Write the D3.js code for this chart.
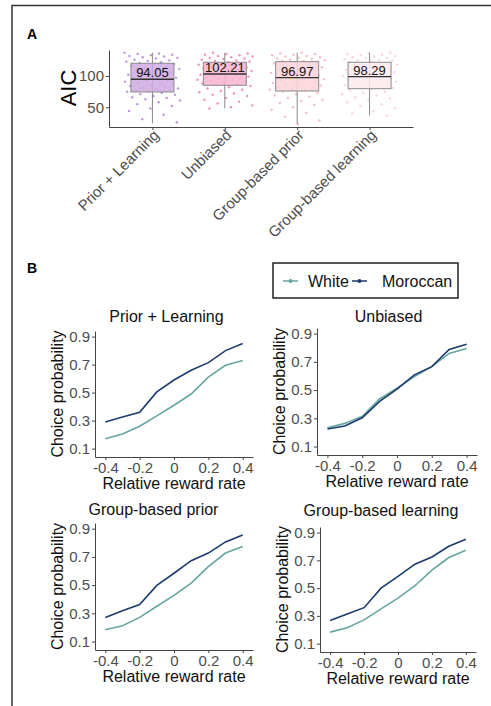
<!doctype html>
<html>
<meta charset="utf-8">
<style>
body { margin: 0; padding: 0; background: #fff; }
svg, svg text { font-family: 'Liberation Sans', Arial, sans-serif; }
svg { display: block; }
.tick text { fill: #4d4d4d; }
.domain, .tick line { stroke: #444; }
</style>
<body>
<svg width="491" height="706"></svg>
<script src="https://cdn.jsdelivr.net/npm/d3@7"></script>
<script>

// ---- data, panel A (AIC per model) ----
var models = ["Prior + Learning", "Unbiased", "Group-based prior", "Group-based learning"];
var aicLabels = ["94.05", "102.21", "96.97", "98.29"];
var aicMedian = [94.7, 103.2, 97.3, 98.9];
var aicQ1 = [74.4, 85.1, 76.0, 79.7];
var aicQ3 = [120.3, 121.9, 122.9, 121.9];
var aicLow = [24.4, 48.4, 23.3, 36.6];
var aicHigh = [137, 137, 137, 137];
var aicTicks = [50, 100];

// individual participants
var aicPrior = [137, 136, 135, 134, 133, 132, 131, 130, 129, 128, 126, 125, 124, 123, 122, 121,
                119, 117, 116, 114, 112, 111, 109, 107, 105, 104, 102, 100, 99, 97, 96, 95,
                93, 92, 91, 89, 88, 87, 85, 84, 83, 81, 80, 79, 78, 77, 76, 75,
                73, 71, 70, 68, 66, 65, 63, 61, 58, 55, 52, 48, 44, 38, 31, 26];
var aicUnbiased = [137, 136, 135, 134, 133, 132, 131, 130, 129, 128, 127, 126, 125, 124, 123, 122,
                   121, 120, 119, 118, 117, 115, 114, 113, 112, 110, 109, 108, 107, 106, 105, 104,
                   102, 101, 100, 99, 98, 97, 96, 95, 94, 93, 92, 91, 90, 88, 87, 86,
                   84, 82, 80, 78, 76, 74, 72, 70, 68, 65, 62, 59, 56, 53, 50, 48];
var aicGroupPrior = [137, 136, 135, 134, 133, 132, 131, 130, 129, 128, 127, 126, 125, 124, 124, 123,
                     122, 120, 118, 116, 114, 113, 111, 109, 107, 105, 104, 102, 101, 100, 99, 98,
                     96, 95, 94, 93, 91, 90, 89, 87, 86, 85, 83, 82, 80, 79, 78, 77,
                     75, 73, 71, 69, 67, 65, 62, 60, 57, 54, 50, 46, 41, 35, 29, 23];
var aicGroupLearning = [137, 136, 135, 134, 133, 132, 131, 130, 129, 128, 127, 126, 125, 124, 123, 122,
                        121, 119, 118, 116, 115, 113, 112, 110, 109, 107, 106, 104, 103, 102, 101, 100,
                        98, 97, 96, 95, 94, 93, 92, 91, 89, 88, 87, 86, 85, 83, 82, 81,
                        79, 77, 75, 73, 71, 69, 66, 64, 61, 58, 55, 52, 48, 44, 40, 37];
var aicPoints = [aicPrior, aicUnbiased, aicGroupPrior, aicGroupLearning];

var boxFill = ["#cfaae2", "#f8b4d0", "#fcd3db", "#fdeaed"];
var dotFill = ["#a873d6", "#ec6aa6", "#f7a3b6", "#f8c6ce"];

// ---- data, panel B (choice probability) ----
var rewardRate = [-0.4, -0.3, -0.2, -0.1, 0, 0.1, 0.2, 0.3, 0.4];
var groups = ["White", "Moroccan"];
var groupColor = ["#67a5a1", "#1b3b6d"];

var whitePriorLearning    = [0.17, 0.205, 0.26, 0.334, 0.41, 0.49, 0.61, 0.695, 0.73];
var moroccanPriorLearning = [0.29, 0.325, 0.36, 0.505, 0.59, 0.66, 0.714, 0.80, 0.85];
var whiteUnbiased         = [0.233, 0.264, 0.315, 0.437, 0.514, 0.596, 0.666, 0.76, 0.795];
var moroccanUnbiased      = [0.224, 0.245, 0.304, 0.42, 0.507, 0.608, 0.666, 0.788, 0.825];
var whiteGroupPrior       = [0.184, 0.212, 0.271, 0.35, 0.427, 0.514, 0.631, 0.727, 0.774];
var moroccanGroupPrior    = [0.271, 0.318, 0.362, 0.498, 0.584, 0.673, 0.727, 0.806, 0.855];
var whiteGroupLearning    = [0.183, 0.214, 0.271, 0.35, 0.428, 0.517, 0.629, 0.72, 0.772];
var moroccanGroupLearning = [0.266, 0.314, 0.359, 0.50, 0.584, 0.672, 0.724, 0.801, 0.851];

var choiceWhite = [whitePriorLearning, whiteUnbiased, whiteGroupPrior, whiteGroupLearning];
var choiceMoroccan = [moroccanPriorLearning, moroccanUnbiased, moroccanGroupPrior, moroccanGroupLearning];
var probTicks = [0.1, 0.3, 0.5, 0.7, 0.9];
var rateTicks = [-0.4, -0.2, 0, 0.2, 0.4];

var FONT = "'Liberation Sans', Arial, sans-serif";
var svg = d3.select("svg");

// outer figure frame (top + left edge only)
svg.append("path")
    .attr("d", "M12,706V5.5H491")
    .attr("fill", "none")
    .attr("stroke", "#333")
    .attr("stroke-width", 1.5);

svg.append("text").attr("x", 27).attr("y", 38.5)
    .style("font-size", "14px").style("font-weight", "bold").text("A");
svg.append("text").attr("x", 27).attr("y", 272.5)
    .style("font-size", "14px").style("font-weight", "bold").text("B");

function styleTicks(a) {
  a.attr("font-family", FONT);
  a.selectAll("text").style("font-size", "15px").style("font-family", FONT);
}

// ================= panel A =================
var xA = d3.scalePoint().domain(models).range([109, 413]).padding(0.6);
var yA = d3.scaleLinear().domain([18.5, 141.5]).range([127, 50]);
var gA = svg.append("g");

gA.append("g")
    .attr("transform", "translate(109,0)")
    .call(d3.axisLeft(yA).tickValues(aicTicks).tickSize(3).tickSizeOuter(0).tickPadding(2))
    .call(styleTicks);

var xAxisA = gA.append("g")
    .attr("transform", "translate(0,127)")
    .call(d3.axisBottom(xA).tickSize(3).tickSizeOuter(0))
    .call(styleTicks);
xAxisA.selectAll("text")
    .attr("text-anchor", "end")
    .attr("dy", null)
    .attr("y", 0)
    .attr("transform", "translate(7,9) rotate(-45)");

gA.append("text")
    .attr("transform", "translate(76,88) rotate(-90)")
    .attr("text-anchor", "middle")
    .style("font-size", "22px")
    .text("AIC");

var box = gA.selectAll(".box").data(models).enter().append("g").attr("class", "box");

// jittered points behind the boxes (deterministic spread)
box.each(function(m, i) {
  var cx = xA(m);
  d3.select(this).selectAll("circle").data(aicPoints[i]).enter().append("circle")
      .attr("cx", function(d, j) { return cx + (((j * 0.618034 + i * 0.29) % 1) - 0.5) * 56; })
      .attr("cy", function(d) { return yA(d); })
      .attr("r", 1.2)
      .attr("fill", dotFill[i])
      .attr("opacity", 0.75);
});

box.append("line")
    .attr("x1", function(d) { return xA(d); })
    .attr("x2", function(d) { return xA(d); })
    .attr("y1", function(d, i) { return yA(aicHigh[i]); })
    .attr("y2", function(d, i) { return yA(aicLow[i]); })
    .attr("stroke", "#888").attr("stroke-width", 1);

box.append("rect")
    .attr("x", function(d) { return xA(d) - 21.5; })
    .attr("width", 43)
    .attr("y", function(d, i) { return yA(aicQ3[i]); })
    .attr("height", function(d, i) { return yA(aicQ1[i]) - yA(aicQ3[i]); })
    .attr("fill", function(d, i) { return boxFill[i]; })
    .attr("fill-opacity", 0.85)
    .attr("stroke", "#8a8a8a").attr("stroke-width", 1);

box.append("line")
    .attr("x1", function(d) { return xA(d) - 21.5; })
    .attr("x2", function(d) { return xA(d) + 21.5; })
    .attr("y1", function(d, i) { return yA(aicMedian[i]); })
    .attr("y2", function(d, i) { return yA(aicMedian[i]); })
    .attr("stroke", "#333").attr("stroke-width", 1.4);

box.append("text")
    .attr("x", function(d) { return xA(d); })
    .attr("y", function(d, i) { return yA(aicMedian[i]) - 2; })
    .attr("text-anchor", "middle")
    .style("font-size", "13px")
    .attr("fill", "#111")
    .text(function(d, i) { return aicLabels[i]; });

// ================= panel B =================
// legend
var legend = svg.append("g");
legend.append("rect")
    .attr("x", 273).attr("y", 263).attr("width", 185).attr("height", 35)
    .attr("fill", "none").attr("stroke", "#222").attr("stroke-width", 1.5);
var legX = [283, 352];
var legTextX = [308, 382];
groups.forEach(function(g, i) {
  legend.append("line")
      .attr("x1", legX[i]).attr("x2", legX[i] + 15).attr("y1", 281).attr("y2", 281)
      .attr("stroke", groupColor[i]).attr("stroke-width", 1.5);
  legend.append("circle").attr("cx", legX[i] + 7.5).attr("cy", 281).attr("r", 2)
      .attr("fill", groupColor[i]);
  legend.append("text").attr("x", legTextX[i]).attr("y", 287)
      .style("font-size", "16px").attr("fill", "#111").text(g);
});

// panel boxes: left, right, top, bottom, title x, title baseline
var panels = [
  {l: 95,  r: 253, t: 331, b: 457, tx: 166.5, ty: 322},
  {l: 317, r: 477, t: 328, b: 455, tx: 388.5, ty: 321.5},
  {l: 95,  r: 253, t: 523, b: 650, tx: 153.5, ty: 515},
  {l: 320, r: 476, t: 527, b: 652, tx: 381,   ty: 516}
];

var line = d3.line();

panels.forEach(function(p, k) {
  var x = d3.scaleLinear().domain([-0.46, 0.46]).range([p.l, p.r]);
  var y = d3.scaleLinear().domain([0.04, 0.94]).range([p.b, p.t]);
  var g = svg.append("g");

  g.append("g")
      .attr("transform", "translate(" + p.l + ",0)")
      .call(d3.axisLeft(y).tickValues(probTicks).tickFormat(d3.format(".1f"))
              .tickSize(3).tickSizeOuter(0).tickPadding(2))
      .call(styleTicks);

  g.append("g")
      .attr("transform", "translate(0," + p.b + ")")
      .call(d3.axisBottom(x).tickValues(rateTicks)
              .tickFormat(function(d) { return d === 0 ? "0" : d3.format(".1f")(d).replace("\u2212", "-"); })
              .tickSize(3).tickSizeOuter(0).tickPadding(2))
      .call(styleTicks);

  g.append("text")
      .attr("x", p.tx).attr("y", p.ty)
      .attr("text-anchor", "middle")
      .style("font-size", "16px").attr("fill", "#111")
      .text(models[k]);

  g.append("text")
      .attr("transform", "translate(" + (p.l - 32) + "," + ((p.t + p.b) / 2) + ") rotate(-90)")
      .attr("text-anchor", "middle")
      .style("font-size", "16px").attr("fill", "#111")
      .text("Choice probability");

  g.append("text")
      .attr("x", (p.l + p.r) / 2).attr("y", p.b + 32)
      .attr("text-anchor", "middle")
      .style("font-size", "16px").attr("fill", "#111")
      .text("Relative reward rate");

  [choiceWhite[k], choiceMoroccan[k]].forEach(function(vals, i) {
    g.append("path")
        .attr("d", line(rewardRate.map(function(r, j) { return [x(r), y(vals[j])]; })))
        .attr("fill", "none")
        .attr("stroke", groupColor[i])
        .attr("stroke-width", 1.6);
  });
});

</script>
</body>
</html>
